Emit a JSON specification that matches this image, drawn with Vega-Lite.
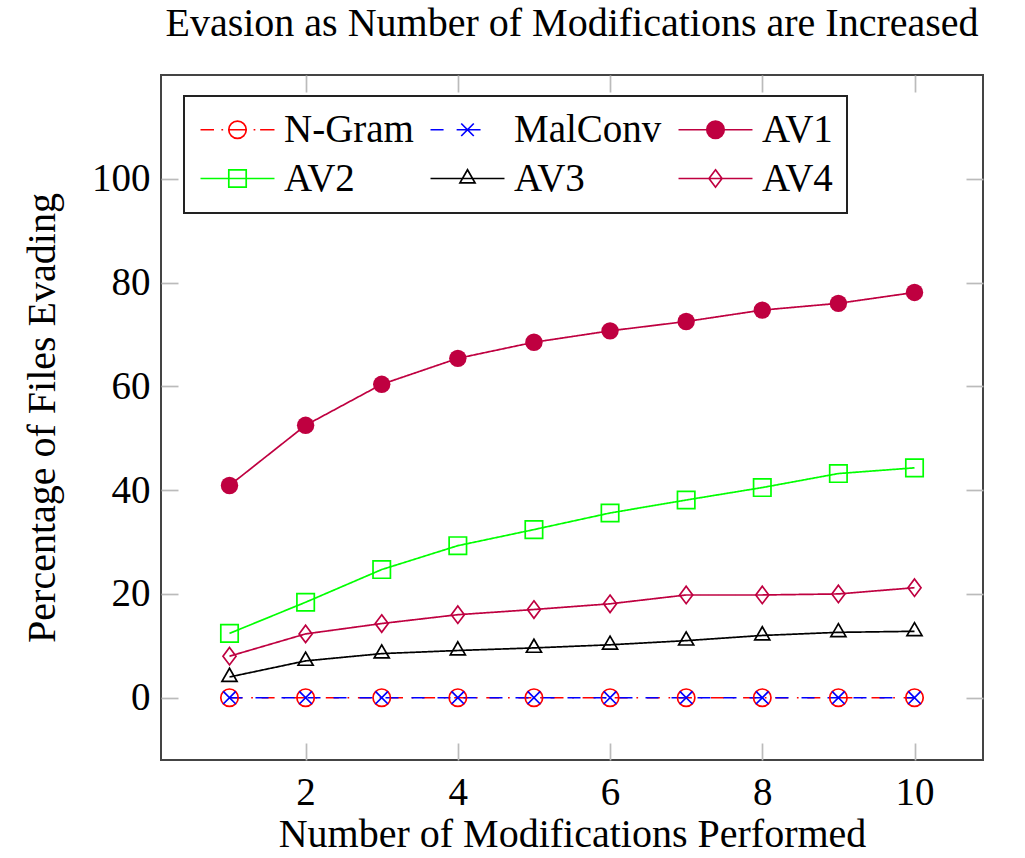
{
  "$schema": "https://vega.github.io/schema/vega-lite/v6.json",
  "width": 822,
  "height": 685,
  "autosize": {"type": "none"},
  "padding": {"left": 161, "top": 75, "right": 42, "bottom": 98},
  "title": {"text": "Evasion as Number of Modifications are Increased", "font": "Liberation Serif", "fontSize": 40, "fontWeight": "normal", "color": "black", "anchor": "middle", "offset": 30},
  "data": {"values": [
    {"x": 1, "series": "N-Gram", "y": 0}, {"x": 2, "series": "N-Gram", "y": 0}, {"x": 3, "series": "N-Gram", "y": 0}, {"x": 4, "series": "N-Gram", "y": 0}, {"x": 5, "series": "N-Gram", "y": 0},
    {"x": 6, "series": "N-Gram", "y": 0}, {"x": 7, "series": "N-Gram", "y": 0}, {"x": 8, "series": "N-Gram", "y": 0}, {"x": 9, "series": "N-Gram", "y": 0}, {"x": 10, "series": "N-Gram", "y": 0},
    {"x": 1, "series": "MalConv", "y": 0}, {"x": 2, "series": "MalConv", "y": 0}, {"x": 3, "series": "MalConv", "y": 0}, {"x": 4, "series": "MalConv", "y": 0}, {"x": 5, "series": "MalConv", "y": 0},
    {"x": 6, "series": "MalConv", "y": 0}, {"x": 7, "series": "MalConv", "y": 0}, {"x": 8, "series": "MalConv", "y": 0}, {"x": 9, "series": "MalConv", "y": 0}, {"x": 10, "series": "MalConv", "y": 0},
    {"x": 1, "series": "AV1", "y": 40.9}, {"x": 2, "series": "AV1", "y": 52.5}, {"x": 3, "series": "AV1", "y": 60.4}, {"x": 4, "series": "AV1", "y": 65.4}, {"x": 5, "series": "AV1", "y": 68.5},
    {"x": 6, "series": "AV1", "y": 70.7}, {"x": 7, "series": "AV1", "y": 72.5}, {"x": 8, "series": "AV1", "y": 74.7}, {"x": 9, "series": "AV1", "y": 76.0}, {"x": 10, "series": "AV1", "y": 78.1},
    {"x": 1, "series": "AV2", "y": 12.4}, {"x": 2, "series": "AV2", "y": 18.4}, {"x": 3, "series": "AV2", "y": 24.7}, {"x": 4, "series": "AV2", "y": 29.3}, {"x": 5, "series": "AV2", "y": 32.4},
    {"x": 6, "series": "AV2", "y": 35.6}, {"x": 7, "series": "AV2", "y": 38.1}, {"x": 8, "series": "AV2", "y": 40.5}, {"x": 9, "series": "AV2", "y": 43.2}, {"x": 10, "series": "AV2", "y": 44.3},
    {"x": 1, "series": "AV3", "y": 4.0}, {"x": 2, "series": "AV3", "y": 7.1}, {"x": 3, "series": "AV3", "y": 8.5}, {"x": 4, "series": "AV3", "y": 9.1}, {"x": 5, "series": "AV3", "y": 9.6},
    {"x": 6, "series": "AV3", "y": 10.2}, {"x": 7, "series": "AV3", "y": 11.0}, {"x": 8, "series": "AV3", "y": 12.0}, {"x": 9, "series": "AV3", "y": 12.6}, {"x": 10, "series": "AV3", "y": 12.8},
    {"x": 1, "series": "AV4", "y": 8.0}, {"x": 2, "series": "AV4", "y": 12.3}, {"x": 3, "series": "AV4", "y": 14.3}, {"x": 4, "series": "AV4", "y": 16.0}, {"x": 5, "series": "AV4", "y": 17.0},
    {"x": 6, "series": "AV4", "y": 18.1}, {"x": 7, "series": "AV4", "y": 19.8}, {"x": 8, "series": "AV4", "y": 19.8}, {"x": 9, "series": "AV4", "y": 20.0}, {"x": 10, "series": "AV4", "y": 21.2}
  ]},
  "layer": [
    {
      "mark": {"type": "line", "strokeWidth": 1.7},
      "encoding": {
        "x": {"field": "x", "type": "quantitative", "scale": {"domain": [0.1, 10.9], "nice": false, "zero": false},
          "axis": {"orient": "bottom", "values": [2, 4, 6, 8, 10], "domain": false, "grid": false, "tickSize": -17, "tickColor": "#bbbbbb", "tickWidth": 1.7,
            "labelFont": "Liberation Serif", "labelFontSize": 39, "labelColor": "black", "labelPadding": 30, "labelFlush": false,
            "title": "Number of Modifications Performed", "titleFont": "Liberation Serif", "titleFontSize": 40, "titleFontWeight": "normal", "titleColor": "black", "titlePadding": 2}},
        "y": {"field": "y", "type": "quantitative", "scale": {"domain": [-12, 120], "nice": false, "zero": false},
          "axis": {"orient": "left", "values": [0, 20, 40, 60, 80, 100], "domain": false, "grid": false, "tickSize": -17, "tickColor": "#bbbbbb", "tickWidth": 1.7,
            "labelFont": "Liberation Serif", "labelFontSize": 39, "labelColor": "black", "labelPadding": 28, "labelFlush": false,
            "title": "Percentage of Files Evading", "titleFont": "Liberation Serif", "titleFontSize": 40, "titleFontWeight": "normal", "titleColor": "black", "titlePadding": 29}},
        "stroke": {"field": "series", "type": "nominal",
          "scale": {"domain": ["AV4", "AV3", "AV2", "AV1", "MalConv", "N-Gram"], "range": ["#bf0040", "#000000", "#00ff00", "#bf0040", "#0000ff", "#ff0000"]},
          "legend": null},
        "strokeDash": {"field": "series", "type": "nominal",
          "scale": {"domain": ["AV4", "AV3", "AV2", "AV1", "MalConv", "N-Gram"], "range": [[1, 0], [1, 0], [1, 0], [1, 0], [13, 13], [13, 8.7, 1.7, 8.7]]},
          "legend": null}
      }
    },
    {
      "transform": [{"filter": {"field": "series", "equal": "N-Gram"}}],
      "mark": {"type": "point", "shape": "circle", "filled": false, "color": "#ff0000", "strokeWidth": 1.7, "size": 303, "opacity": 1},
      "encoding": {
        "x": {"field": "x", "type": "quantitative",
          "axis": {"orient": "top", "values": [2, 4, 6, 8, 10], "labels": false, "domain": false, "grid": false, "tickSize": -17, "tickColor": "#bbbbbb", "tickWidth": 1.7, "title": null}},
        "y": {"field": "y", "type": "quantitative",
          "axis": {"orient": "right", "values": [0, 20, 40, 60, 80, 100], "labels": false, "domain": false, "grid": false, "tickSize": -17, "tickColor": "#bbbbbb", "tickWidth": 1.7, "title": null}}
      }
    },
    {
      "transform": [{"filter": {"field": "series", "equal": "MalConv"}}],
      "mark": {"type": "point", "shape": "M-0.72,-0.72L0.72,0.72M-0.72,0.72L0.72,-0.72", "filled": false, "color": "#0000ff", "strokeWidth": 1.7, "size": 303, "opacity": 1},
      "encoding": {
        "x": {"field": "x", "type": "quantitative", "axis": null},
        "y": {"field": "y", "type": "quantitative", "axis": null}
      }
    },
    {
      "transform": [{"filter": {"field": "series", "equal": "AV1"}}],
      "mark": {"type": "point", "shape": "circle", "filled": true, "color": "#bf0040", "strokeWidth": 1.7, "size": 303, "opacity": 1},
      "encoding": {
        "x": {"field": "x", "type": "quantitative", "axis": null},
        "y": {"field": "y", "type": "quantitative", "axis": null}
      }
    },
    {
      "transform": [{"filter": {"field": "series", "equal": "AV2"}}],
      "mark": {"type": "point", "shape": "square", "filled": false, "color": "#00ff00", "strokeWidth": 1.7, "size": 303, "opacity": 1},
      "encoding": {
        "x": {"field": "x", "type": "quantitative", "axis": null},
        "y": {"field": "y", "type": "quantitative", "axis": null}
      }
    },
    {
      "transform": [{"filter": {"field": "series", "equal": "AV3"}}],
      "mark": {"type": "point", "shape": "M0,-1L0.866,0.5L-0.866,0.5Z", "filled": false, "color": "#000000", "strokeWidth": 1.7, "size": 303, "opacity": 1},
      "encoding": {
        "x": {"field": "x", "type": "quantitative", "axis": null},
        "y": {"field": "y", "type": "quantitative", "axis": null}
      }
    },
    {
      "transform": [{"filter": {"field": "series", "equal": "AV4"}}],
      "mark": {"type": "point", "shape": "M0,-1L0.75,0L0,1L-0.75,0Z", "filled": false, "color": "#bf0040", "strokeWidth": 1.7, "size": 303, "opacity": 1},
      "encoding": {
        "x": {"field": "x", "type": "quantitative", "axis": null},
        "y": {"field": "y", "type": "quantitative", "axis": null}
      }
    },
    {
      "transform": [{"filter": {"field": "series", "equal": "none"}}],
      "mark": {"type": "point", "filled": false, "strokeWidth": 1.7, "size": 303, "opacity": 1},
      "encoding": {
        "x": {"field": "x", "type": "quantitative", "axis": null},
        "y": {"field": "y", "type": "quantitative", "axis": null},
        "color": {"field": "series", "type": "nominal",
          "scale": {"domain": ["N-Gram", "MalConv", "AV1", "AV2", "AV3", "AV4"], "range": ["#ff0000", "#0000ff", "#bf0040", "#00ff00", "#000000", "#bf0040"]},
          "legend": {
            "orient": "none", "legendX": 23, "legendY": 21, "title": null, "direction": "horizontal", "columns": 3, "columnPadding": 13, "rowPadding": 9, "padding": 14,
            "symbolSize": 303, "symbolOffset": 20, "labelOffset": 27, "symbolStrokeWidth": 1.7, "symbolOpacity": 1,
            "labelFont": "Liberation Serif", "labelFontSize": 39, "labelColor": "black", "labelLimit": 400,
            "strokeColor": "#222222", "fillColor": "white"
          }},
        "shape": {"field": "series", "type": "nominal",
          "scale": {"domain": ["N-Gram", "MalConv", "AV1", "AV2", "AV3", "AV4"],
            "range": [
              "M-4.25,0H-2.7M-1.85,0H-1.65M-1,0H1M1.85,0H2.05M2.6,0H4.25M-1,0A1,1,0,1,1,1,0A1,1,0,1,1,-1,0",
              "M-4.25,0H-2.75M-1.25,0H1.5M-0.72,-0.72L0.72,0.72M-0.72,0.72L0.72,-0.72",
              "M-4.25,0H4.25M-1,0A1,1,0,1,1,1,0A1,1,0,1,1,-1,0",
              "M-4.25,0H4.25M-1,-1H1V1H-1Z",
              "M-4.25,0H4.25M0,-1L0.866,0.5L-0.866,0.5Z",
              "M-4.25,0H4.25M0,-1L0.75,0L0,1L-0.75,0Z"
            ]}},
        "fill": {"field": "series", "type": "nominal",
          "scale": {"domain": ["N-Gram", "MalConv", "AV1", "AV2", "AV3", "AV4"], "range": ["transparent", "transparent", "#bf0040", "transparent", "transparent", "transparent"]}}
      }
    }
  ],
  "resolve": {"axis": {"x": "independent", "y": "independent"}},
  "config": {
    "view": {"stroke": "#444444", "strokeWidth": 2},
    "axis": {"grid": false},
    "legend": {"strokeWidth": 2}
  }
}
